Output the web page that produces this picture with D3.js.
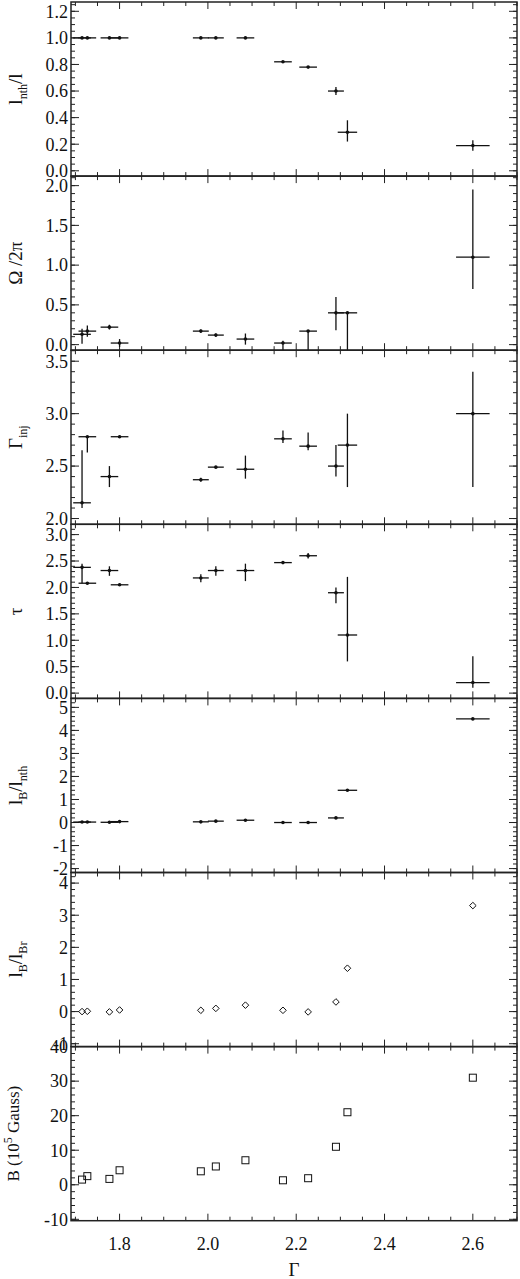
<!DOCTYPE html>
<html><head><meta charset="utf-8">
<script src="https://cdn.jsdelivr.net/npm/d3@7"></script>
<style>body{margin:0;background:#fff}svg text{font-family:'Liberation Serif','DejaVu Serif',serif;fill:#111}</style>
</head><body>
<svg id="c" width="520" height="1279" font-family="Liberation Serif, DejaVu Serif, serif"></svg>
<script>
const gammaX = [1.715,1.727,1.777,1.80,1.984,2.018,2.085,2.17,2.227,2.29,2.316,2.60];
const gammaXErr = [0.02,0.02,0.02,0.02,0.018,0.018,0.02,0.02,0.02,0.018,0.022,0.038];
const xTicks = [1.8,2.0,2.2,2.4,2.6];

const lnthVal = [1,1,1,1,1,1,1,0.82,0.78,0.60,0.29,0.19];
const lnthLo  = [1,1,1,1,1,1,1,0.82,0.78,0.57,0.22,0.15];
const lnthHi  = [1,1,1,1,1,1,1,0.82,0.78,0.63,0.38,0.23];

const omegaVal = [0.13,0.17,0.22,0.02,0.17,0.12,0.07,0.02,0.17,0.40,0.40,1.10];
const omegaLo  = [0.01,0.10,0.19,-0.03,0.15,0.10,0.00,-0.07,-0.07,0.18,-0.07,0.70];
const omegaHi  = [0.20,0.24,0.25,0.07,0.19,0.14,0.14,0.05,0.17,0.60,0.40,1.95];

const ginjVal = [2.15,2.78,2.40,2.78,2.37,2.49,2.47,2.76,2.69,2.50,2.70,3.00];
const ginjLo  = [2.10,2.63,2.30,2.77,2.35,2.48,2.38,2.72,2.65,2.40,2.30,2.30];
const ginjHi  = [2.65,2.78,2.50,2.79,2.39,2.50,2.60,2.84,2.82,2.70,3.00,3.40];

const tauVal = [2.38,2.08,2.32,2.05,2.18,2.32,2.32,2.47,2.60,1.90,1.10,0.20];
const tauLo  = [2.08,2.06,2.22,2.03,2.10,2.22,2.12,2.45,2.55,1.70,0.60,0.10];
const tauHi  = [2.45,2.10,2.40,2.07,2.25,2.40,2.45,2.49,2.65,2.00,2.20,0.70];

const lbnthVal = [0.02,0.02,0.01,0.04,0.03,0.06,0.10,0.00,0.00,0.20,1.40,4.50];
const lbbrVal = [0.00,0.01,-0.01,0.05,0.04,0.10,0.20,0.04,-0.01,0.30,1.35,3.30];
const bVal = [1.5,2.5,1.7,4.2,3.9,5.3,7.1,1.3,1.9,11,21,31];

const panels = [
 {dom:[-0.04,1.27], ticks:[0,0.2,0.4,0.6,0.8,1.0,1.2], minor:0.05, fmt:".1f", v:lnthVal, lo:lnthLo, hi:lnthHi, xe:true, mk:"dot", label:[["l",""],["nth","sub"],["/l",""]]},
 {dom:[-0.07,2.12], ticks:[0,0.5,1.0,1.5,2.0], minor:0.1, fmt:".1f", v:omegaVal, lo:omegaLo, hi:omegaHi, xe:true, mk:"dot", label:[["Ω /2π",""]]},
 {dom:[1.945,3.605], ticks:[2.0,2.5,3.0,3.5], minor:0.1, fmt:".1f", v:ginjVal, lo:ginjLo, hi:ginjHi, xe:true, mk:"dot", label:[["Γ",""],["inj","sub"]]},
 {dom:[-0.1,3.195], ticks:[0,0.5,1,1.5,2,2.5,3], minor:0.1, fmt:".1f", v:tauVal, lo:tauLo, hi:tauHi, xe:true, mk:"dot", label:[["τ",""]]},
 {dom:[-2.17,5.39], ticks:[-2,-1,0,1,2,3,4,5], minor:0.2, fmt:"d", v:lbnthVal, xe:true, mk:"dot", label:[["l",""],["B","sub"],["/l",""],["nth","sub"]]},
 {dom:[-1.09,4.33], ticks:[-1,0,1,2,3,4], minor:0.2, fmt:"d", v:lbbrVal, xe:false, mk:"diamond", label:[["l",""],["B","sub"],["/l",""],["Br","sub"]]},
 {dom:[-10.4,40], ticks:[-10,0,10,20,30,40], minor:2, fmt:"d", v:bVal, xe:false, mk:"square", label:[["B (10",""],["5","sup"],[" Gauss)",""]]}
];

const FF="Liberation Serif, DejaVu Serif, serif";
const svg = d3.select("#c");
const L=71, R=517, T=2, PH=174.1;
const x = d3.scaleLinear().domain([1.69,2.70]).range([L,R]);
const xMinor = d3.range(1.70,2.70001,0.05);
const fmtNeg = s => s.replace("−","-");

panels.forEach((p,i)=>{
  const top=T+i*PH, bot=top+PH;
  const y=d3.scaleLinear().domain(p.dom).range([bot,top]);
  const g=svg.append("g");
  xMinor.forEach(t=>{
    const isMaj = xTicks.some(m=>Math.abs(m-t)<1e-6);
    const len = isMaj?7:4;
    g.append("line").attr("x1",x(t)).attr("x2",x(t)).attr("y1",bot).attr("y2",bot-len).attr("stroke","#222");
    g.append("line").attr("x1",x(t)).attr("x2",x(t)).attr("y1",top).attr("y2",top+len).attr("stroke","#222");
  });
  const mn = d3.range(Math.ceil(p.dom[0]/p.minor)*p.minor, p.dom[1], p.minor);
  mn.forEach(t=>{
    g.append("line").attr("x1",L).attr("x2",L+4).attr("y1",y(t)).attr("y2",y(t)).attr("stroke","#222");
    g.append("line").attr("x1",R).attr("x2",R-4).attr("y1",y(t)).attr("y2",y(t)).attr("stroke","#222");
  });
  p.ticks.forEach(t=>{
    g.append("line").attr("x1",L).attr("x2",L+8).attr("y1",y(t)).attr("y2",y(t)).attr("stroke","#222");
    g.append("line").attr("x1",R).attr("x2",R-8).attr("y1",y(t)).attr("y2",y(t)).attr("stroke","#222");
    g.append("text").attr("x",L-3).attr("y",y(t)).attr("dy","0.35em").attr("text-anchor","end")
      .attr("font-family",FF).attr("font-size",18).text(fmtNeg(d3.format(p.fmt)(t)));
  });
  g.append("rect").attr("x",L).attr("y",top).attr("width",R-L).attr("height",PH).attr("fill","none").attr("stroke","#222").attr("stroke-width",1.5);
  p.v.forEach((v,j)=>{
    const cx=x(gammaX[j]), cy=y(v);
    if(p.xe) g.append("line").attr("x1",x(gammaX[j]-gammaXErr[j])).attr("x2",x(gammaX[j]+gammaXErr[j])).attr("y1",cy).attr("y2",cy).attr("stroke","#111").attr("stroke-width",1.3);
    if(p.lo) g.append("line").attr("x1",cx).attr("x2",cx).attr("y1",y(Math.max(p.lo[j],p.dom[0]))).attr("y2",y(p.hi[j])).attr("stroke","#111").attr("stroke-width",1.3);
    if(p.mk==="dot") g.append("circle").attr("cx",cx).attr("cy",cy).attr("r",1.8).attr("fill","#111");
    else if(p.mk==="diamond") g.append("path").attr("d",`M${cx},${cy-3.3}L${cx+3.3},${cy}L${cx},${cy+3.3}L${cx-3.3},${cy}Z`).attr("fill","none").attr("stroke","#111").attr("stroke-width",1);
    else g.append("rect").attr("x",cx-3.5).attr("y",cy-3.5).attr("width",7).attr("height",7).attr("fill","none").attr("stroke","#111").attr("stroke-width",1);
  });
  const ly=(top+bot)/2;
  const t=g.append("text").attr("transform",`translate(${i===6?19:22},${ly}) rotate(-90)`).attr("text-anchor","middle")
    .attr("font-family",FF).attr("font-size",i===6?17:19);
  let prev=0;
  p.label.forEach(([s,k])=>{
    const want = k==="sub"?5:k==="sup"?-7:0;
    const ts=t.append("tspan").attr("dy",want-prev).text(s);
    if(k) ts.attr("font-size",12);
    prev=want;
  });
});
xTicks.forEach(t=>svg.append("text").attr("x",x(t)).attr("y",1250).attr("text-anchor","middle").attr("font-family",FF).attr("font-size",18).text(t.toFixed(1)));
svg.append("text").attr("x",(L+R)/2).attr("y",1276).attr("text-anchor","middle").attr("font-family",FF).attr("font-size",19).text("Γ");
</script>
</body></html>
